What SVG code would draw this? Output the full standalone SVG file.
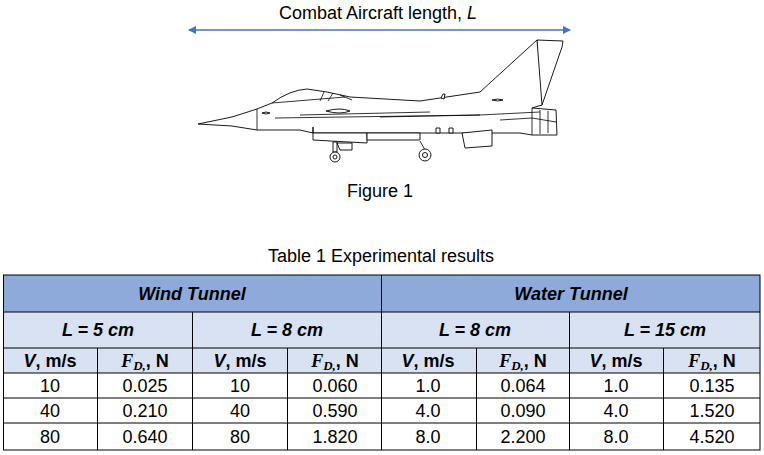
<svg xmlns="http://www.w3.org/2000/svg" width="764" height="455" viewBox="0 0 764 455">
<defs>
<marker id="ah" markerWidth="8" markerHeight="8" refX="7" refY="4" orient="auto-start-reverse" markerUnits="userSpaceOnUse"><path d="M0,0 L8,4 L0,8 z" fill="#4472C4"/></marker>
<style>
text{font-family:"Liberation Sans",Arial,sans-serif;font-size:18px;fill:#000}
.c{text-anchor:middle}
.b{font-weight:bold}
.bi{font-weight:bold;font-style:italic}
.fd{font-family:"Liberation Serif","Times New Roman",serif;font-weight:bold;font-style:italic}
.ac{fill:#fff;stroke:#000;stroke-width:0.9;stroke-linejoin:round}
.ln{fill:none;stroke:#000;stroke-width:0.8}
</style>
</defs>
<rect width="764" height="455" fill="#fff"/>
<g id="length">
<line x1="189" y1="30" x2="570" y2="30" stroke="#4472C4" stroke-width="1.3" marker-start="url(#ah)" marker-end="url(#ah)"/>
<text x="378" y="19" class="c">Combat Aircraft length, <tspan font-style="italic">L</tspan></text>
</g>
<g id="aircraft">
<path class="ac" d="M537,40 L563,41 L562,47 L542,105 L537,105 Z"/>
<path class="ac" d="M198,124 L232,117 L257,109 L272,103 Q290,90 307,89 L327,92 L350,97 L420,101 L480,92 L537,40 L542,105 L532,108 L556,110 L557,135 L532,135 L520,133 L495,133 L313,133 L300,130 L257,130 L232,126 Z"/>
<path class="ln" d="M272,103 L345,97 M324,92 L320,101 M333,93 L328,101 M340,95 L352,100"/>
<path class="ln" d="M257,109 L257,130 M275,118 L480,115 L540,112 M380,117 L480,115 M300,115 L430,112"/>
<path class="ac" d="M326,111 Q340,107 350,111 Q340,115 326,111 Z"/>
<path class="ac" d="M262,113 Q266,111 270,113 Q266,115 262,113 Z"/>
<path class="ac" d="M492,100 Q498,98 503,100 Q498,102 492,100 Z"/>
<path class="ac" d="M441,98 L443,94 L445,94 L444,99 Z"/>
<path class="ln" d="M532,108 L532,135 M540,110 L540,134 M548,111 L548,133 M500,120 L532,118 L556,122"/>
<path class="ac" d="M313,127 L313,140 L367,143 L367,133 L313,133 Z"/>
<path class="ac" d="M367,140 L420,140 L420,133 L367,133 Z"/>
<path class="ac" d="M462,133 L492,130 L492,146 L465,148 Z"/>
<rect class="ac" x="436" y="128" width="4" height="5"/>
<rect class="ac" x="449" y="128" width="4" height="5"/>
<path class="ac" d="M333,142 L333,152 L337,152 L337,142 Z M337,143 L352,143 L352,150 L340,150 Z"/>
<path class="ln" d="M420,141 L425,150"/>
<circle class="ac" cx="335" cy="157" r="5"/><circle class="ac" cx="335" cy="157" r="2"/>
<circle class="ac" cx="425" cy="155" r="6"/><circle class="ac" cx="425" cy="155" r="2.5"/>
<text x="380" y="197" class="c">Figure 1</text>
</g>
<g id="table">
<text x="381" y="262" class="c">Table 1 Experimental results</text>
<rect x="3.5" y="275" width="756.5" height="37" fill="#8EAADB"/>
<rect x="3.5" y="312" width="756.5" height="61" fill="#D9E2F3"/>
<g stroke="#000" stroke-width="1">
<rect x="3.5" y="275" width="756.5" height="175" fill="none"/>
<line x1="3.5" y1="312" x2="760" y2="312"/>
<line x1="3.5" y1="348" x2="760" y2="348"/>
<line x1="3.5" y1="373" x2="760" y2="373"/>
<line x1="3.5" y1="398" x2="760" y2="398"/>
<line x1="3.5" y1="423" x2="760" y2="423"/>
<line x1="381.5" y1="275" x2="381.5" y2="450"/>
<line x1="192.5" y1="312" x2="192.5" y2="450"/>
<line x1="569.5" y1="312" x2="569.5" y2="450"/>
<line x1="97.5" y1="348" x2="97.5" y2="450"/>
<line x1="287.5" y1="348" x2="287.5" y2="450"/>
<line x1="476.5" y1="348" x2="476.5" y2="450"/>
<line x1="663.5" y1="348" x2="663.5" y2="450"/>
</g>
<text x="192" y="300" class="c bi">Wind Tunnel</text>
<text x="571" y="300" class="c bi">Water Tunnel</text>
<text x="98" y="336" class="c bi">L = 5 cm</text>
<text x="287" y="336" class="c bi">L = 8 cm</text>
<text x="475" y="336" class="c bi">L = 8 cm</text>
<text x="665" y="336" class="c bi">L = 15 cm</text>
<text x="50" y="367" class="c b"><tspan font-style="italic">V</tspan>, m/s</text>
<text x="240" y="367" class="c b"><tspan font-style="italic">V</tspan>, m/s</text>
<text x="428" y="367" class="c b"><tspan font-style="italic">V</tspan>, m/s</text>
<text x="616" y="367" class="c b"><tspan font-style="italic">V</tspan>, m/s</text>
<text x="145" y="367" class="c b"><tspan class="fd">F</tspan><tspan class="fd" font-size="13" dy="3">D,</tspan><tspan dy="-3">, N</tspan></text>
<text x="335" y="367" class="c b"><tspan class="fd">F</tspan><tspan class="fd" font-size="13" dy="3">D,</tspan><tspan dy="-3">, N</tspan></text>
<text x="523" y="367" class="c b"><tspan class="fd">F</tspan><tspan class="fd" font-size="13" dy="3">D,</tspan><tspan dy="-3">, N</tspan></text>
<text x="712" y="367" class="c b"><tspan class="fd">F</tspan><tspan class="fd" font-size="13" dy="3">D,</tspan><tspan dy="-3">, N</tspan></text>
<text x="50" y="392" class="c">10</text><text x="145" y="392" class="c">0.025</text><text x="240" y="392" class="c">10</text><text x="335" y="392" class="c">0.060</text><text x="428" y="392" class="c">1.0</text><text x="523" y="392" class="c">0.064</text><text x="616" y="392" class="c">1.0</text><text x="712" y="392" class="c">0.135</text>
<text x="50" y="417" class="c">40</text><text x="145" y="417" class="c">0.210</text><text x="240" y="417" class="c">40</text><text x="335" y="417" class="c">0.590</text><text x="428" y="417" class="c">4.0</text><text x="523" y="417" class="c">0.090</text><text x="616" y="417" class="c">4.0</text><text x="712" y="417" class="c">1.520</text>
<text x="50" y="443" class="c">80</text><text x="145" y="443" class="c">0.640</text><text x="240" y="443" class="c">80</text><text x="335" y="443" class="c">1.820</text><text x="428" y="443" class="c">8.0</text><text x="523" y="443" class="c">2.200</text><text x="616" y="443" class="c">8.0</text><text x="712" y="443" class="c">4.520</text>
</g>
</svg>
